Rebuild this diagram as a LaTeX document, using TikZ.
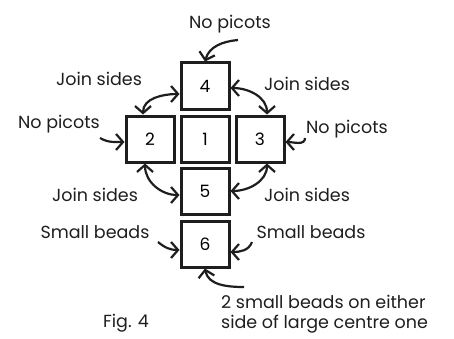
\documentclass[tikz,border=0pt]{standalone}
\usepackage{fontspec}
\setmainfont{Poppins}
\usepackage{tikz}
\usetikzlibrary{arrows.meta}
\definecolor{inkgray}{RGB}{30,30,30}

\tikzset{
  square/.style={draw=inkgray, line width=3pt, minimum width=48pt, minimum height=46pt, inner sep=0pt, font=\fontsize{17}{17}\selectfont},
  note/.style={inkgray, font=\fontsize{17.5}{20}\selectfont, inner sep=0pt},
  pointer/.style={inkgray, line width=2.2pt, -{Straight Barb[length=7pt,width=16pt]}},
  twoway/.style={pointer, {Straight Barb[length=7pt,width=16pt]}-{Straight Barb[length=7pt,width=16pt]}}
}

\begin{document}
\begin{tikzpicture}[x=1pt, y=1pt]
  \useasboundingbox (0,0) rectangle (454,338);
  % Squares
  \node[square] (b4) at (205,252) {4};
  \node[square] (b2) at (150,199) {2};
  \node[square] (b1) at (205,199) {1};
  \node[square] (b3) at (260,199) {3};
  \node[square] (b5) at (205,147) {5};
  \node[square] (b6) at (205,94) {6};
  % Labels
  \node[note] (top) at (230,314) {No picots};
  \node[note] (jul) at (99,259) {Join sides};
  \node[note] (jur) at (307,254) {Join sides};
  \node[note] (npl) at (59,214) {No picots};
  \node[note] (npr) at (347,209) {No picots};
  \node[note] (jll) at (95,143) {Join sides};
  \node[note] (jlr) at (307,143) {Join sides};
  \node[note] (sbl) at (95,106) {Small beads};
  \node[note] (sbr) at (311,106) {Small beads};
  \node[note, align=left, anchor=west] (two) at (221,24) {2 small beads on either\\side of large centre one};
  \node[note] (fig) at (126,15) {Fig. 4};
  % Arrows
  \coordinate (ttop) at (238,298);
  \coordinate (tnpl) at (100,200);
  \coordinate (tnpr) at (305,200);
  \coordinate (tsbl) at (158,96);
  \coordinate (tsbr) at (252,96);
  \coordinate (tbot) at (244,51);
  \draw[pointer] (ttop) to[out=185,in=75] (b4.north);
  \draw[twoway] ([xshift=-7pt]b2.north) to[out=90,in=180] ([yshift=-8pt]b4.west);
  \draw[twoway] ([yshift=-2pt]b4.east) to[out=0,in=90] ([xshift=7pt]b3.north);
  \draw[pointer] (tnpl) to[out=-30,in=180] ([yshift=-3pt]b2.west);
  \draw[pointer] (tnpr) to[out=-90,in=0] ([yshift=-3pt]b3.east);
  \draw[twoway] ([xshift=-5pt]b2.south) to[out=-90,in=180] ([yshift=-4pt]b5.west);
  \draw[twoway] ([xshift=7pt]b3.south) to[out=-90,in=0] (b5.east);
  \draw[pointer] (tsbl) to[out=-40,in=180] ([yshift=-6pt]b6.west);
  \draw[pointer] (tsbr) to[out=-110,in=0] ([yshift=-8pt]b6.east);
  \draw[pointer] (tbot) to[out=180,in=-80] (b6.south);
\end{tikzpicture}
\end{document}
